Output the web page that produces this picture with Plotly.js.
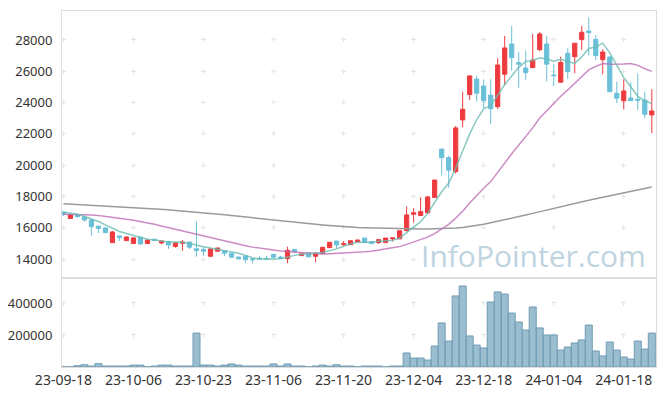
<!DOCTYPE html>
<html><head><meta charset="utf-8">
<script src="https://cdn.plot.ly/plotly-3.0.1.min.js"></script>
<style>html,body{margin:0;padding:0;background:#fff}#chart{width:665px;height:396px}</style>
</head><body><div id="chart"></div>
<script>
const dates = ['23-09-18','23-09-19','23-09-20','23-09-21','23-09-22','23-09-25','23-09-26','23-09-27','23-10-04','23-10-05',
'23-10-06','23-10-10','23-10-11','23-10-12','23-10-13','23-10-16','23-10-17','23-10-18','23-10-19','23-10-20',
'23-10-23','23-10-24','23-10-25','23-10-26','23-10-27','23-10-30','23-10-31','23-11-01','23-11-02','23-11-03',
'23-11-06','23-11-07','23-11-08','23-11-09','23-11-10','23-11-13','23-11-14','23-11-15','23-11-16','23-11-17',
'23-11-20','23-11-21','23-11-22','23-11-23','23-11-24','23-11-27','23-11-28','23-11-29','23-11-30','23-12-01',
'23-12-04','23-12-05','23-12-06','23-12-07','23-12-08','23-12-11','23-12-12','23-12-13','23-12-14','23-12-15',
'23-12-18','23-12-19','23-12-20','23-12-21','23-12-22','23-12-26','23-12-27','23-12-28','24-01-02','24-01-03',
'24-01-04','24-01-05','24-01-08','24-01-09','24-01-10','24-01-11','24-01-12','24-01-15','24-01-16','24-01-17',
'24-01-18','24-01-19','24-01-22','24-01-23','24-01-24'];

const openP = [17000,16590,16840,16690,16500,16100,15990,15050,15480,15180,
14990,15400,14990,15260,15030,15130,14800,15010,15090,14660,
14620,14180,14500,14520,14370,14130,14200,14020,14050,14040,
14300,14130,14030,14620,14220,14400,14180,14350,14730,15150,
14930,14920,15090,15340,15110,15050,15050,15290,15290,15820,
16860,16780,16950,17940,21030,20480,19590,22890,24510,25500,
25060,24480,23740,25810,27740,26550,26210,26230,27380,27740,
25760,25300,27150,26930,28020,28570,28040,26740,26910,24590,
24120,24290,24210,24160,23210];

const highP = [17050,16880,16880,16700,16560,16150,16000,15800,15500,15450,
15410,15420,15230,15300,15170,15150,15040,15220,15100,16390,
14790,14660,14720,14530,14380,14140,14210,14060,14200,14190,
14320,14200,14790,14640,14360,14420,14400,14760,15080,15160,
15150,15180,15230,15360,15120,15250,15350,15360,15820,17370,
17250,17950,18030,19060,21040,20610,22500,24700,25720,25700,
25490,25490,26830,28260,28890,27250,27320,28380,28510,28260,
26470,26930,27470,27800,28900,29450,28320,27410,26950,25340,
25490,25300,25870,24700,24850];

const lowP = [16750,16580,16650,16390,15500,15650,15640,15030,15160,15150,
14980,14920,14980,15150,14950,14650,14730,14520,14650,14150,
14200,14170,14490,14200,14100,14000,13770,13730,13950,13960,
14100,14000,13730,14370,14200,14120,13800,14340,14720,14690,
14800,14900,15080,15040,14960,14960,15040,15110,15280,15750,
16330,16770,16920,17930,19330,18560,19470,22420,24170,24060,
23640,22630,23590,25100,26040,24950,25440,26230,27280,25340,
25060,25290,25510,25870,27360,27000,26720,25810,24650,23970,
23550,24100,23530,23000,22040];

const closeP = [16850,16840,16710,16500,16070,15950,15690,15730,15370,15410,
15350,14970,15220,15180,15160,14900,15030,15090,14760,14540,
14500,14650,14710,14370,14120,14010,13960,13960,14000,14000,
14120,14030,14560,14470,14340,14140,14390,14750,15070,14900,
14980,15170,15220,15050,14990,15240,15340,15350,15810,16820,
16960,17030,17970,19050,20480,19680,22380,23570,25700,24600,
24120,23610,26400,27490,26870,26450,25910,26720,28380,26450,
25720,26570,25980,27790,28490,28470,27000,27230,24700,24280,
24740,24120,24150,23250,23460];

const ma5 = [17010,16950,16860,16720,16570,16400,16184,15988,15762,15630,
15510,15366,15264,15226,15176,15086,15098,15072,14988,14864,
14784,14708,14632,14554,14470,14372,14234,14084,14010,13986,
14008,14022,14142,14236,14304,14308,14380,14418,14538,14650,
14818,14974,15068,15064,15082,15134,15168,15194,15346,15712,
16056,16394,16918,17566,18298,18842,19800,20900,22000,22900,
23600,23800,24450,25150,25698,26250,26624,26688,26866,26782,
26636,26768,26620,26502,26910,27460,27546,27796,27178,26336,
25590,25014,24398,24108,23944];

const ma20 = [16860,16855,16845,16835,16820,16780,16730,16675,16610,16545,
16475,16400,16325,16220,16115,16010,15900,15790,15680,15566,
15449,15339,15239,15133,15035,14938,14852,14763,14695,14624,
14563,14516,14483,14447,14406,14368,14336,14319,14335,14353,
14377,14403,14428,14462,14506,14567,14636,14706,14796,14937,
15079,15229,15400,15629,15936,16213,16612,17053,17585,18070,
18527,18949,19508,20130,20724,21284,21813,22381,23010,23491,
23929,24406,24807,25244,25644,26084,26315,26498,26448,26432,
26463,26488,26376,26164,25993];

const ma120 = [17540,17515,17490,17465,17440,17420,17400,17380,17355,17330,
17310,17280,17250,17215,17180,17145,17110,17075,17040,17005,
16970,16925,16880,16830,16780,16730,16680,16630,16580,16535,
16490,16445,16400,16355,16310,16265,16220,16180,16140,16105,
16070,16045,16020,16000,15985,15970,15955,15945,15935,15925,
15920,15920,15925,15930,15940,15955,15980,16020,16080,16150,
16230,16320,16410,16510,16610,16710,16810,16920,17030,17140,
17250,17360,17460,17560,17660,17760,17850,17940,18030,18120,
18230,18330,18420,18510,18610];

const volume = [1000,1000,8000,14000,6000,21000,6000,6000,6000,6000,
12000,12000,1000,6000,12000,12000,6000,6000,6000,212000,
12000,12000,6000,12000,19000,12000,6000,6000,6000,6000,
19000,6000,19000,6000,6000,1000,6000,12000,6000,14000,
6000,6000,1000,6000,6000,6000,1000,6000,6000,87500,
56000,56000,43700,131000,275000,162000,444000,506000,194000,137000,
119000,406000,469000,456000,337000,281000,231000,375000,244000,200000,
200000,106000,125000,150000,169000,262000,100000,69000,156000,106000,
62500,50000,162000,112000,212000];

const xTickLabels = ['23-09-18','23-10-06','23-10-23','23-11-06','23-11-20','23-12-04','23-12-18','24-01-04','24-01-18'];
const priceTicks = [14000,16000,18000,20000,22000,24000,26000,28000];
const volTicks = [200000,400000];

const RED = '#EE3B3F', BLUE = '#6BC0D9';
const GRID = '#e6e6e6', FRAME = '#dddddd';

const traces = [
  {type:'candlestick', x:dates, open:openP, high:highP, low:lowP, close:closeP,
   xaxis:'x', yaxis:'y', whiskerwidth:0, hoverinfo:'skip',
   increasing:{line:{color:RED, width:1}, fillcolor:RED},
   decreasing:{line:{color:BLUE, width:1}, fillcolor:BLUE}},
  {type:'scatter', mode:'lines', x:dates, y:ma120, xaxis:'x', yaxis:'y', line:{color:'#9a9a9a', width:1.5}, hoverinfo:'skip'},
  {type:'scatter', mode:'lines', x:dates, y:ma20, xaxis:'x', yaxis:'y', line:{color:'rgba(190,110,180,0.8)', width:1.5}, hoverinfo:'skip'},
  {type:'scatter', mode:'lines', x:dates, y:ma5, xaxis:'x', yaxis:'y', line:{color:'rgba(105,188,178,0.8)', width:1.5}, hoverinfo:'skip'},
  {type:'bar', x:dates, y:volume, xaxis:'x2', yaxis:'y2', hoverinfo:'skip',
   marker:{color:'rgba(120,168,192,0.75)', line:{color:'rgb(112,156,180)', width:1}}}
];

const layout = {
  width:665, height:396,
  margin:{l:62, r:9, t:11, b:29, pad:0},
  paper_bgcolor:'#fff', plot_bgcolor:'#fff',
  showlegend:false,
  font:{family:'"Noto Sans", sans-serif', color:'#333', size:13},
  boxgap:0.4, boxgroupgap:0, bargap:0,
  xaxis:{type:'category', anchor:'y', range:[-0.2,84.6], tickvals:xTickLabels, showticklabels:false,
    showgrid:true, gridcolor:GRID, griddash:'0.15px,26.3px,4.85px,0px',
    showline:true, mirror:true, linecolor:FRAME, ticks:'', zeroline:false,
    rangeslider:{visible:false}, fixedrange:true},
  xaxis2:{type:'category', anchor:'y2', matches:'x', tickvals:xTickLabels, ticktext:xTickLabels,
    tickfont:{size:14, color:'#333'},
    showgrid:true, gridcolor:GRID, griddash:'0px,22.5px,5px,4.5px',
    showline:true, mirror:true, linecolor:FRAME, ticks:'', zeroline:false},
  yaxis:{domain:[0.25,1], range:[12790,29850], tickvals:priceTicks, tickformat:'d', tickfont:{size:13, color:'#333'},
    showgrid:true, gridcolor:GRID, griddash:'3.9px,65px,1.1px,0px',
    showline:true, mirror:true, linecolor:FRAME, ticks:'', zeroline:false, ticklabelstandoff:6},
  yaxis2:{domain:[0,0.25], range:[0,556000], tickvals:volTicks, tickformat:'d', tickfont:{size:13, color:'#333'},
    showgrid:true, gridcolor:GRID, griddash:'3.9px,65px,1.1px,0px',
    showline:true, mirror:true, linecolor:FRAME, ticks:'', zeroline:false, ticklabelstandoff:6},
  annotations:[{text:'InfoPointer.com', xref:'paper', yref:'paper', x:0.987, y:0.314,
    xanchor:'right', yanchor:'middle', showarrow:false,
    font:{family:'"Open Sans", sans-serif', size:30, color:'#C0D4DF'}}]
};

Plotly.newPlot('chart', traces, layout, {staticPlot:true, displayModeBar:false});
</script></body></html>
